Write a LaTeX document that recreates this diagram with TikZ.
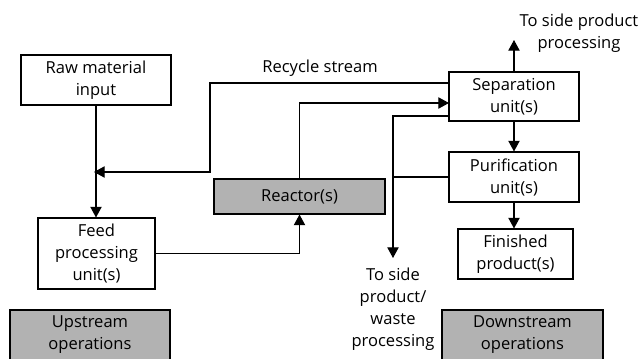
\documentclass[tikz,border=0pt]{standalone}
\usepackage{fontspec}
\setmainfont{Open Sans}
\usetikzlibrary{arrows.meta}

\begin{document}
\begin{tikzpicture}[x=0.75pt,y=-0.75pt,
  font=\fontsize{12.4}{16.5}\selectfont,
  unit/.style={draw,line width=0.8pt,align=center,inner sep=0pt},
  stage/.style={unit,fill=black!30},
  flow/.style={line width=0.8pt,-{Triangle[length=8pt,width=8.5pt]}}]

\useasboundingbox (0,0) rectangle (643,358);
\clip (0,0) rectangle (643,358);

\node[unit,minimum width=112.5pt,minimum height=37.5pt]
(raw)
at (96,80)
{Raw material\\input};

\node[unit,minimum width=87.75pt,minimum height=53.25pt]
(feed)
at (96.5,253.5)
{Feed\\processing\\unit(s)};

\node[stage,minimum width=128.25pt,minimum height=26.25pt]
(reactor)
at (299.5,196.5)
{Reactor(s)};

\node[unit,minimum width=97.5pt,minimum height=36.75pt]
(sep)
at (514,96.5)
{Separation\\unit(s)};

\node[unit,minimum width=97.5pt,minimum height=37.5pt]
(pur)
at (514,177)
{Purification\\unit(s)};

\node[unit,minimum width=86.25pt,minimum height=37.5pt]
(fin)
at (515.5,254)
{Finished\\product(s)};

\node[stage,minimum width=120pt,minimum height=37.5pt]
(up)
at (90,335)
{Upstream\\operations};

\node[stage,minimum width=120.75pt,minimum height=37.5pt]
(down)
at (522.5,335)
{Downstream\\operations};

\node[align=center]
(side)
at (579,33)
{To side product\\processing};

\node[align=center]
(waste)
at (393,309)
{To side\\product/\\waste\\processing};

\node
(rec)
at (320,68)
{Recycle stream};

% ends of the streams
\coordinate (join) at (94,172);
\coordinate (recout) at (449,83);
\coordinate (sepin) at (449,103);
\coordinate (sepout) at (449,116);
\coordinate (sideend) at (514,40);
\coordinate (wasteend) at (393,258);

\draw[flow] (raw.south) -- (raw.south |- feed.north);
\draw[flow] (recout) -| (210,172) -- (join);
\draw[flow] (feed.east) -| (reactor.south);
\draw[flow] (reactor.north) |- (sepin);
\draw[flow] (sep.north) -- (sideend);
\draw[flow] (sep) -- (pur);
\draw[flow] (pur.south) -- (pur.south |- fin.north);
\draw[flow] (sepout) -| (wasteend);
\draw[line width=0.8pt] (pur.west) -- (pur.west -| wasteend);

\end{tikzpicture}
\end{document}
